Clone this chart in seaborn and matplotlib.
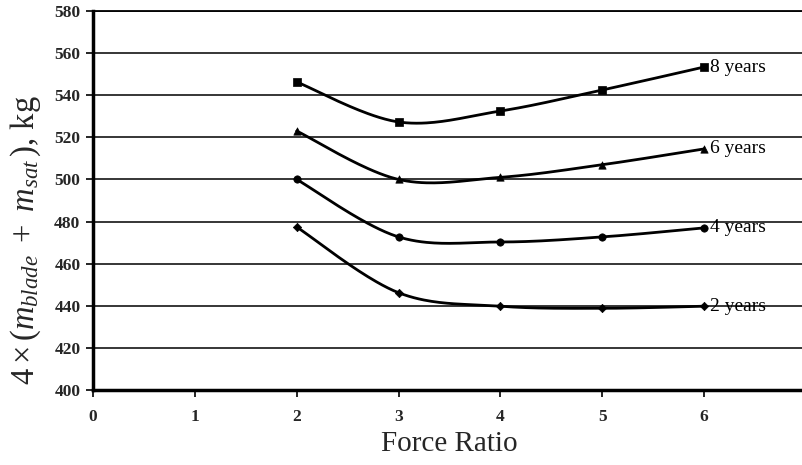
import numpy as np
import pandas as pd
import matplotlib
matplotlib.use("Agg")
import matplotlib.pyplot as plt
import seaborn as sns

force_ratio = [2, 3, 4, 5, 6]
mass_8yr = [546.3, 527.3, 532.5, 542.5, 553.4]
mass_6yr = [523.0, 500.0, 501.0, 507.0, 514.5]
mass_4yr = [500.0, 472.7, 470.3, 472.7, 477.0]
mass_2yr = [477.4, 446.2, 439.8, 438.8, 439.8]
series_names = ["8 years", "6 years", "4 years", "2 years"]
series_vals = [mass_8yr, mass_6yr, mass_4yr, mass_2yr]
series_markers = ["s", "^", "o", "D"]
x_ticks = [0, 1, 2, 3, 4, 5, 6]
y_ticks = [400, 420, 440, 460, 480, 500, 520, 540, 560, 580]


def smooth(xs, ys, n=40):
    # Excel-style smoothed line: cubic Bezier with Catmull-Rom control points
    xs = np.asarray(xs, float)
    ys = np.asarray(ys, float)
    px, py = [], []
    m = len(xs)
    for i in range(m - 1):
        x0, y0 = (xs[i - 1], ys[i - 1]) if i > 0 else (xs[i], ys[i])
        x1, y1 = xs[i], ys[i]
        x2, y2 = xs[i + 1], ys[i + 1]
        x3, y3 = (xs[i + 2], ys[i + 2]) if i + 2 < m else (xs[i + 1], ys[i + 1])
        c1x, c1y = x1 + (x2 - x0) / 6, y1 + (y2 - y0) / 6
        c2x, c2y = x2 - (x3 - x1) / 6, y2 - (y3 - y1) / 6
        t = np.linspace(0, 1, n, endpoint=(i == m - 2))
        bx = (1 - t) ** 3 * x1 + 3 * (1 - t) ** 2 * t * c1x + 3 * (1 - t) * t ** 2 * c2x + t ** 3 * x2
        by = (1 - t) ** 3 * y1 + 3 * (1 - t) ** 2 * t * c1y + 3 * (1 - t) * t ** 2 * c2y + t ** 3 * y2
        px.extend(bx)
        py.extend(by)
    return np.array(px), np.array(py)


sns.set_theme(style="white")
plt.rcParams["font.family"] = ["Liberation Serif", "DejaVu Serif"]
plt.rcParams["mathtext.fontset"] = "custom"
plt.rcParams["mathtext.rm"] = "Liberation Serif"
plt.rcParams["mathtext.it"] = "Liberation Serif:italic"
plt.rcParams["mathtext.bf"] = "Liberation Serif:bold"

fig = plt.figure(figsize=(8.02, 4.65), dpi=100)
ax = fig.add_axes([93 / 802, 1 - 390 / 465, (806 - 93) / 802, (390 - 11) / 465])

for name, vals, mk in zip(series_names, series_vals, series_markers):
    sx, sy = smooth(force_ratio, vals)
    sns.lineplot(x=sx, y=sy, ax=ax, color="black", lw=2.0, sort=False, estimator=None)
    sns.scatterplot(x=force_ratio, y=vals, ax=ax, marker=mk, color="black",
                    s=28 if mk != "D" else 18, edgecolor="black", linewidth=0.5, zorder=5)
    ax.text(force_ratio[-1] + 0.06, vals[-1], name, fontsize=14, va="center", ha="left",
            color="black")

ax.set_xlim(0, 7)
ax.set_ylim(400, 580)
ax.set_xticks(x_ticks)
ax.set_yticks(y_ticks)
ax.set_xticklabels([str(v) for v in x_ticks], fontsize=12.5, fontweight="bold")
ax.set_yticklabels([str(v) for v in y_ticks], fontsize=12.5, fontweight="bold")
ax.grid(axis="y", color="black", lw=1.1)
ax.set_axisbelow(True)
ax.spines["right"].set_visible(False)
ax.spines["top"].set_linewidth(1.3)
ax.spines["left"].set_linewidth(2.5)
ax.spines["bottom"].set_linewidth(2.5)
for s in ["top", "left", "bottom"]:
    ax.spines[s].set_color("black")
ax.tick_params(axis="y", which="major", direction="out", length=5, width=1.2,
               color="black", left=True, pad=4)
ax.tick_params(axis="x", which="major", direction="out", length=5, width=1.2,
               color="black", bottom=True, pad=9)
ax.set_xlabel("Force Ratio", fontsize=21, labelpad=4)
fig.text(26 / 802, 1 - 240 / 465, r"$4\times(m_{blade}\ +\ m_{sat}\,)$, kg",
         fontsize=23.5, rotation=90, ha="center", va="center")

fig.savefig("out.png", dpi=100)
